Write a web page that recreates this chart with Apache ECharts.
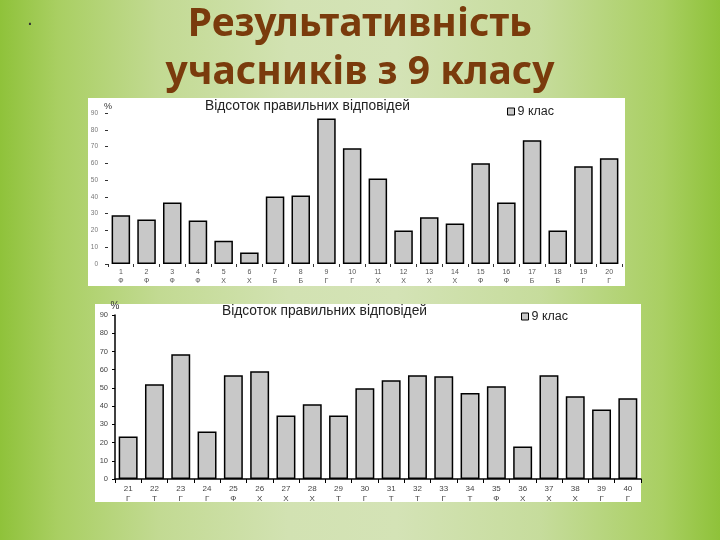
<!DOCTYPE html>
<html>
<head>
<meta charset="utf-8">
<script src="https://cdn.jsdelivr.net/npm/echarts@6/dist/echarts.min.js"></script>
<style>
html,body{margin:0;padding:0;width:720px;height:540px;overflow:hidden;}
body{background:linear-gradient(90deg,#8fc23a 0%,#a9cf62 8%,#c2da92 22%,#d2e2b2 40%,#d4e3b6 55%,#c6dc9c 75%,#a9cf62 92%,#8fc23a 100%);}
#c{width:720px;height:540px;}
</style>
</head>
<body>
<div id="c"></div>
<script>
// ---- data ----
const numbers1 = ['1','2','3','4','5','6','7','8','9','10','11','12','13','14','15','16','17','18','19','20'];
const letters1 = ['Ф','Ф','Ф','Ф','Х','Х','Б','Б','Г','Г','Х','Х','Х','Х','Ф','Ф','Б','Б','Г','Г'];
const values1  = [29,26.5,36.7,25.9,13.9,6.8,40.2,40.8,86.7,69,51,19.9,27.9,24.1,60,36.7,73.7,19.9,58.2,63];

const numbers2 = ['21','22','23','24','25','26','27','28','29','30','31','32','33','34','35','36','37','38','39','40'];
const letters2 = ['Г','Т','Г','Г','Ф','Х','Х','Х','Т','Г','Т','Т','Г','Т','Ф','Х','Х','Х','Г','Г'];
const values2  = [23.3,52,68.5,26.1,56.9,59.1,34.9,41,34.9,49.8,54.2,56.9,56.4,47.2,50.9,17.8,56.9,45.4,38.2,44.3];

const yTicks = [0,10,20,30,40,50,60,70,80,90];
const chartTitle = 'Відсоток правильних відповідей';
const seriesName = '9 клас';
const slideTitle = 'Результативність\nучасників з 9 класу';

const cats1 = numbers1.map((n,i)=>n+'\n'+letters1[i]);
const cats2 = numbers2.map((n,i)=>n+'\n'+letters2[i]);

const chart = echarts.init(document.getElementById('c'));
const barStyle = {color:'#c8c8c8', borderColor:'#000', borderWidth:1.5};
const font = 'Liberation Sans, Arial, sans-serif';
const legendBase = {data:[seriesName], itemWidth:7, itemHeight:7, itemGap:3, icon:'rect',
  itemStyle:{color:'#c8c8c8', borderColor:'#000', borderWidth:1},
  textStyle:{fontSize:12.5, color:'#222', padding:[0,0,0,-2]}};

chart.setOption({
  backgroundColor:'transparent',
  textStyle:{fontFamily:font},
  graphic:[
    {type:'rect', shape:{x:88,y:98,width:537,height:188}, style:{fill:'#fff'}, z:-10},
    {type:'rect', shape:{x:95,y:304,width:546,height:198}, style:{fill:'#fff'}, z:-10},
    {type:'text', left:28, top:14, style:{text:'.', fill:'#333', font:'bold 14px sans-serif'}},
    {type:'text', left:205, top:99, style:{text:chartTitle, fill:'#222', font:'13.8px '+font}},
    {type:'text', left:222, top:304, style:{text:chartTitle, fill:'#222', font:'13.8px '+font}}
  ],
  title:{
    text:slideTitle, left:'center', top:-4,
    textStyle:{color:'#7a3b0c', fontSize:39, fontWeight:'bold', fontFamily:'Noto Sans, DejaVu Sans, sans-serif', lineHeight:48}
  },
  legend:[
    Object.assign({left:502, top:100}, legendBase),
    Object.assign({left:516, top:305}, legendBase)
  ],
  grid:[
    {left:108, right:98, top:113, bottom:276},
    {left:115, right:79, top:315, bottom:61}
  ],
  xAxis:[
    {type:'category', gridIndex:0, data:cats1,
     axisLine:{show:false}, axisTick:{show:true, length:3, lineStyle:{color:'#333'}},
     axisLabel:{fontSize:7, color:'#555', lineHeight:9, margin:4, interval:0}},
    {type:'category', gridIndex:1, data:cats2,
     axisLine:{show:true, lineStyle:{color:'#000', width:1.5}}, axisTick:{show:true, length:4, lineStyle:{color:'#000'}},
     axisLabel:{fontSize:8, color:'#444', lineHeight:10, margin:5, interval:0}}
  ],
  yAxis:[
    {type:'value', gridIndex:0, min:0, max:90, interval:10, name:'%', nameGap:2,
     nameTextStyle:{fontSize:9, color:'#333', align:'center'},
     axisLine:{show:false}, axisTick:{show:true, length:3, lineStyle:{color:'#333'}}, splitLine:{show:false},
     axisLabel:{fontSize:6.5, color:'#777', margin:10}},
    {type:'value', gridIndex:1, min:0, max:90, interval:10, name:'%', nameGap:0,
     nameTextStyle:{fontSize:10, color:'#333', align:'center'},
     axisLine:{show:true, lineStyle:{color:'#000', width:1.5}}, axisTick:{show:true, length:3, lineStyle:{color:'#000'}}, splitLine:{show:false},
     axisLabel:{fontSize:7.5, color:'#444', margin:7}}
  ],
  series:[
    {name:seriesName, type:'bar', xAxisIndex:0, yAxisIndex:0, data:values1, barWidth:'72%', itemStyle:barStyle, silent:true, animation:false},
    {name:seriesName, type:'bar', xAxisIndex:1, yAxisIndex:1, data:values2, barWidth:'72%', itemStyle:barStyle, silent:true, animation:false}
  ]
});
</script>
</body>
</html>
